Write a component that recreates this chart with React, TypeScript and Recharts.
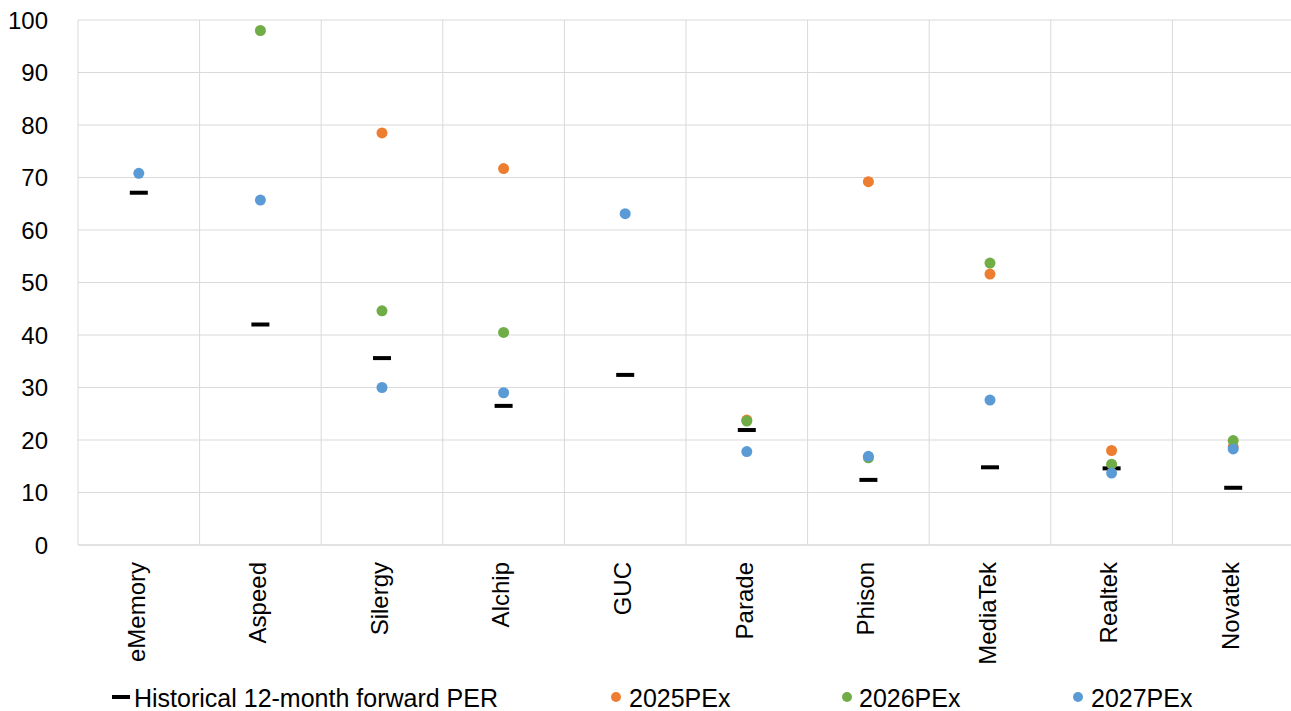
import { ComposedChart, Line, XAxis, YAxis, CartesianGrid, Legend } from "recharts";

const companies = ["eMemory", "Aspeed", "Silergy", "Alchip", "GUC", "Parade", "Phison", "MediaTek", "Realtek", "Novatek"];
const historical = [67.1, 42.0, 35.6, 26.5, 32.4, 21.9, 12.4, 14.8, 14.6, 10.9];
const pe2025 = [null, null, 78.5, 71.7, null, 23.8, 69.2, 51.6, 18.0, 18.7];
const pe2026 = [null, 98.0, 44.6, 40.5, null, 23.6, 16.6, 53.7, 15.4, 19.9];
const pe2027 = [70.8, 65.7, 30.0, 29.0, 63.1, 17.8, 16.9, 27.6, 13.7, 18.3];
const yTicks = [0, 10, 20, 30, 40, 50, 60, 70, 80, 90, 100];

const ORANGE = "#ED7D31";
const GREEN = "#70AD47";
const BLUE = "#5B9BD5";
const GRID = "#D9D9D9";
const FONT = "'Liberation Sans', Arial, sans-serif";

const data = companies.map((name, i) => ({
  name,
  hist: historical[i],
  pe2025: pe2025[i],
  pe2026: pe2026[i],
  pe2027: pe2027[i],
}));

function HistDot(props: any) {
  const { cx, cy, index } = props;
  if (cx == null || cy == null) return <g key={`h-${index}`} />;
  return <rect key={`h-${index}`} x={cx - 9} y={cy - 2} width={18} height={4} fill="#000" />;
}

function XTick({ x, y, payload }: any) {
  const ty = y + 9;
  return (
    <text
      x={x}
      y={ty}
      transform={`rotate(-90, ${x}, ${ty})`}
      textAnchor="end"
      dy="0.24em"
      fontSize={24}
      fontFamily={FONT}
      fill="#000"
    >
      {payload.value}
    </text>
  );
}

function LegendBox() {
  const text = { fontSize: 25, fontFamily: FONT, fill: "#000" };
  return (
    <svg width={1291} height={40} style={{ display: "block" }}>
      <rect x={112} y={24} width={18} height={4} fill="#000" />
      <text x={134} y={36} {...text}>Historical 12-month forward PER</text>
      <circle cx={616} cy={26} r={5} fill={ORANGE} />
      <text x={629} y={36} {...text}>2025PEx</text>
      <circle cx={847} cy={26} r={5} fill={GREEN} />
      <text x={859} y={36} {...text}>2026PEx</text>
      <circle cx={1078} cy={26} r={5} fill={BLUE} />
      <text x={1091} y={36} {...text}>2027PEx</text>
    </svg>
  );
}

export default function App() {
  return (
    <div style={{ position: "absolute", left: 0, top: 0, width: 1291, height: 711, overflow: "hidden", background: "#fff" }}>
      <ComposedChart width={1294} height={711} data={data} margin={{ top: 20, right: 0, bottom: 0, left: 0 }}>
        <CartesianGrid
          stroke={GRID}
          strokeWidth={1}
          verticalCoordinatesGenerator={({ offset }: any) =>
            companies.map((_, i) => offset.left + (i * offset.width) / companies.length).concat(offset.left + offset.width)
          }
        />
        <XAxis
          dataKey="name"
          scale="band"
          height={126}
          interval={0}
          axisLine={{ stroke: GRID }}
          tickLine={false}
          tick={<XTick />}
        />
        <YAxis
          domain={[0, 100]}
          ticks={yTicks}
          width={78}
          axisLine={false}
          tickLine={false}
          tickSize={0}
          tickMargin={30}
          tick={{ fill: "#000", fontSize: 24, fontFamily: FONT }}
        />
        <Legend verticalAlign="bottom" height={40} content={() => <LegendBox />} wrapperStyle={{ left: 0, bottom: 0, width: 1291 }} />
        <Line dataKey="hist" stroke="none" dot={<HistDot />} activeDot={false} isAnimationActive={false} />
        <Line dataKey="pe2025" stroke="none" dot={{ r: 5.5, fill: ORANGE, stroke: "none" }} activeDot={false} isAnimationActive={false} />
        <Line dataKey="pe2026" stroke="none" dot={{ r: 5.5, fill: GREEN, stroke: "none" }} activeDot={false} isAnimationActive={false} />
        <Line dataKey="pe2027" stroke="none" dot={{ r: 5.5, fill: BLUE, stroke: "none" }} activeDot={false} isAnimationActive={false} />
      </ComposedChart>
    </div>
  );
}
